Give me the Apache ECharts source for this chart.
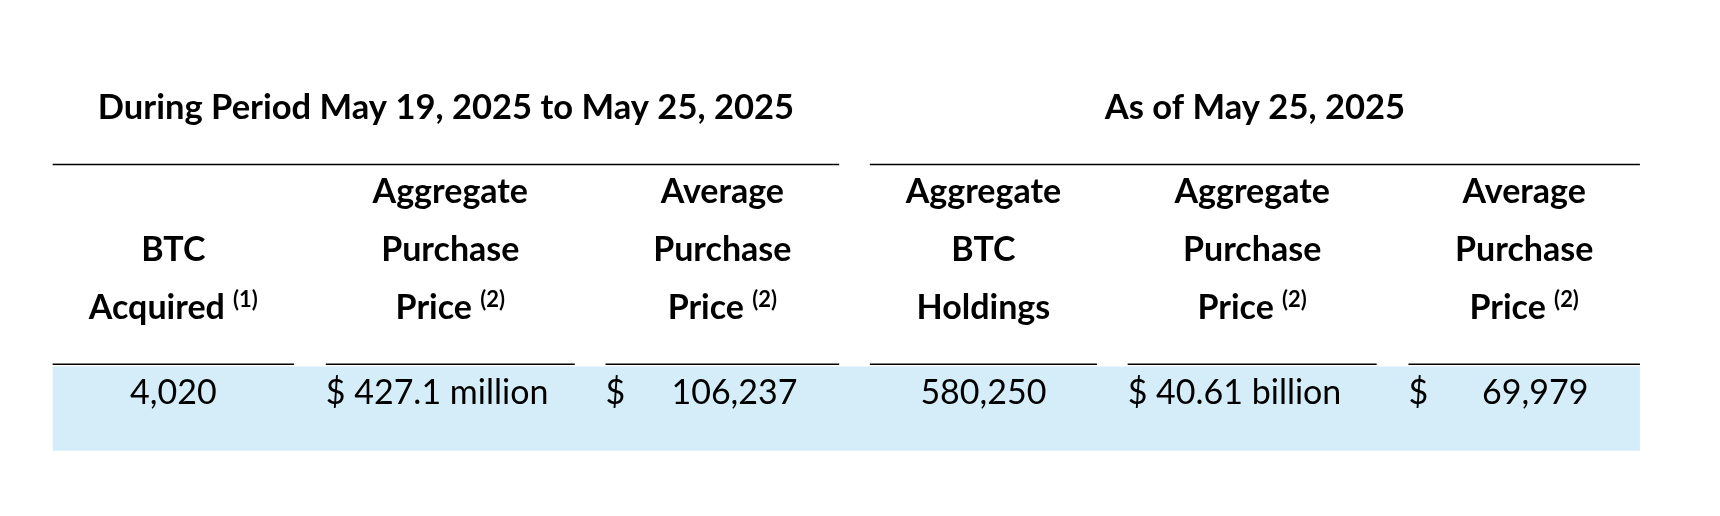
<!DOCTYPE html>
<html><head><meta charset="utf-8">
<script src="https://cdn.jsdelivr.net/npm/echarts@6/dist/echarts.min.js"></script>
<style>html,body{margin:0;padding:0;background:#fff}#c{width:1720px;height:516px}</style>
</head><body><div id="c"></div>
<script>
const groupTitles = ['During Period May 19, 2025 to May 25, 2025', 'As of May 25, 2025'];
const headers = [
  ['', 'BTC', 'Acquired{s|(1)}'],
  ['Aggregate', 'Purchase', 'Price{s|(2)}'],
  ['Average', 'Purchase', 'Price{s|(2)}'],
  ['Aggregate', 'BTC', 'Holdings'],
  ['Aggregate', 'Purchase', 'Price{s|(2)}'],
  ['Average', 'Purchase', 'Price{s|(2)}']
];
const dollarSigns = ['', '$', '$', '', '$', '$'];
const values = ['4,020', '427.1 million', '106,237', '580,250', '40.61 billion', '69,979'];

const k = 1720 / 1568;
const S = v => v * k;
const colSpans = [[48,268],[297,524],[552,765],[793,1000],[1028,1255],[1284,1495]];
const groupSpans = [[48,765],[793,1495]];
const rightPad = [0,0,38,0,0,47];
const font = 'Lato, "Open Sans", sans-serif';
const g = [];
g.push({type:'rect', shape:{x:S(48), y:S(334), width:S(1495-48), height:S(77)}, style:{fill:'#D5EDF8'}, z:0});
groupTitles.forEach((t,i)=>{
  const [a,b]=groupSpans[i];
  g.push({type:'text', x:S((a+b)/2), y:S(98), style:{text:t, font:`bold ${S(31.5)}px ${font}`, fill:'#000', align:'center', verticalAlign:'middle'}});
  g.push({type:'line', shape:{x1:S(a),y1:S(150),x2:S(b),y2:S(150)}, style:{stroke:'#000', lineWidth:1.5}});
});
const rowY=[175,228,281];
headers.forEach((h,i)=>{
  const [a,b]=colSpans[i];
  const cx=S((a+b)/2);
  h.forEach((line,r)=>{
    if(!line) return;
    g.push({type:'text', x:cx, y:S(rowY[r]), style:{text:line.replace('{s|',' {s|'), font:`bold ${S(31)}px ${font}`, fill:'#000', align:'center', verticalAlign:'middle',
      rich:{s:{font:`bold ${S(20)}px ${font}`, fill:'#000', verticalAlign:'top', padding:[0,0,S(16),0]}}}});
  });
  g.push({type:'line', shape:{x1:S(a),y1:S(332),x2:S(b),y2:S(332)}, style:{stroke:'#000', lineWidth:1.5}});
  const vf=`${S(31)}px ${font}`;
  if(!dollarSigns[i]){
    g.push({type:'text', x:cx, y:S(358), style:{text:values[i], font:vf, fill:'#000', align:'center', verticalAlign:'middle'}});
  } else if(i===1||i===4){
    g.push({type:'text', x:S(a), y:S(358), style:{text:'$ '+values[i], font:vf, fill:'#000', align:'left', verticalAlign:'middle'}});
  } else {
    g.push({type:'text', x:S(a), y:S(358), style:{text:'$', font:vf, fill:'#000', align:'left', verticalAlign:'middle'}});
    g.push({type:'text', x:S(b-rightPad[i]), y:S(358), style:{text:values[i], font:vf, fill:'#000', align:'right', verticalAlign:'middle'}});
  }
});
const chart = echarts.init(document.getElementById('c'));
chart.setOption({animation:false, graphic:{elements:g}});
</script></body></html>
